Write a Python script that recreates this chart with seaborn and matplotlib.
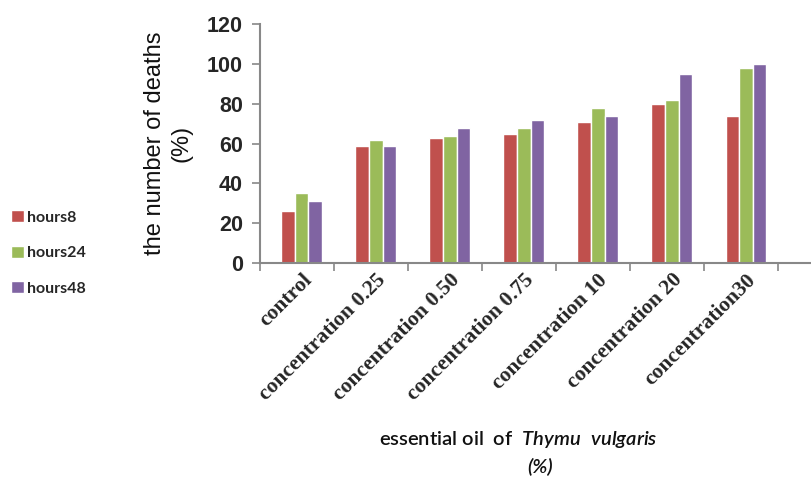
import matplotlib
matplotlib.use("Agg")
import matplotlib.pyplot as plt
import seaborn as sns
import pandas as pd

categories = ['control', 'concentration 0.25', 'concentration 0.50', 'concentration 0.75',
              'concentration 10', 'concentration 20', 'concentration30']
hours8 = [26, 59, 63, 65, 71, 80, 74]
hours24 = [35, 62, 64, 68, 78, 82, 98]
hours48 = [31, 59, 68, 72, 74, 95, 100]
series = ['hours8', 'hours24', 'hours48']
colors = ['#C0504D', '#9BBB59', '#8064A2']

df = pd.DataFrame({
    'treatment': categories * 3,
    'deaths': hours8 + hours24 + hours48,
    'time': [s for s in series for _ in categories],
})

sns.set_style("white")
plt.rcParams['font.family'] = ['Liberation Sans', 'DejaVu Sans']
plt.rcParams['mathtext.fontset'] = 'custom'
plt.rcParams['mathtext.it'] = 'Lato:italic:semibold'
plt.rcParams['mathtext.rm'] = 'Lato:semibold'

fig = plt.figure(figsize=(8.11, 4.8), dpi=100)
ax = fig.add_axes([0.32, 0.452, 0.68, 0.498])

sns.barplot(data=df, x='treatment', y='deaths', hue='time', palette=colors,
            width=0.55, gap=0, saturation=1, ax=ax, legend=True)

ax.set_ylim(0, 120)
ax.set_yticks(range(0, 121, 20))
ax.set_xlim(-0.57, 6.88)

# category boundaries as ticks
ax.set_xticks([i - 0.57 for i in range(8)], minor=True)
ax.set_xticks(range(len(categories)))
ax.set_xticklabels(categories, rotation=45, ha='right', rotation_mode='anchor',
                   family='Liberation Serif', fontweight='bold', fontsize=15.5)
ax.tick_params(axis='x', which='major', length=0, pad=5)
ax.tick_params(axis='x', which='minor', length=6, color='#888888', width=1.2, direction='out', bottom=True)
ax.tick_params(axis='y', length=6, color='#888888', width=1.2, direction='out', left=True,
               labelsize=15.5, pad=6)
for lbl in ax.get_yticklabels():
    lbl.set_fontweight('bold')

for side in ['top', 'right']:
    ax.spines[side].set_visible(False)
for side in ['left', 'bottom']:
    ax.spines[side].set_color('#888888')
    ax.spines[side].set_linewidth(1.5)

ax.set_ylabel('the number of deaths\n(%)', fontsize=17, labelpad=10,
              linespacing=1.3, color='#111111')
ax.set_xlabel('')

fig.text(518 / 811, 1 - 440 / 480, 'essential oil  of  $\\mathit{Thymu\\ \\ vulgaris}$',
         ha='center', va='center', fontsize=14.5, family='Lato', fontweight='semibold',
         color='#111111')
fig.text(540 / 811, 1 - 467 / 480, '(%)', ha='center', va='center', fontsize=14.5,
         family='Lato', style='italic', fontweight='semibold', color='#111111')

handles, labels = ax.get_legend_handles_labels()
ax.legend(handles, labels, loc='center left', bbox_to_anchor=(0.0, 1 - 253 / 480),
          bbox_transform=fig.transFigure, frameon=False, handlelength=0.8,
          handleheight=0.8, handletextpad=0.2, labelspacing=1.3, borderaxespad=0.3,
          prop={'family': 'Lato', 'weight': 'bold', 'size': 11.5})

fig.savefig('out.png', dpi=100)
